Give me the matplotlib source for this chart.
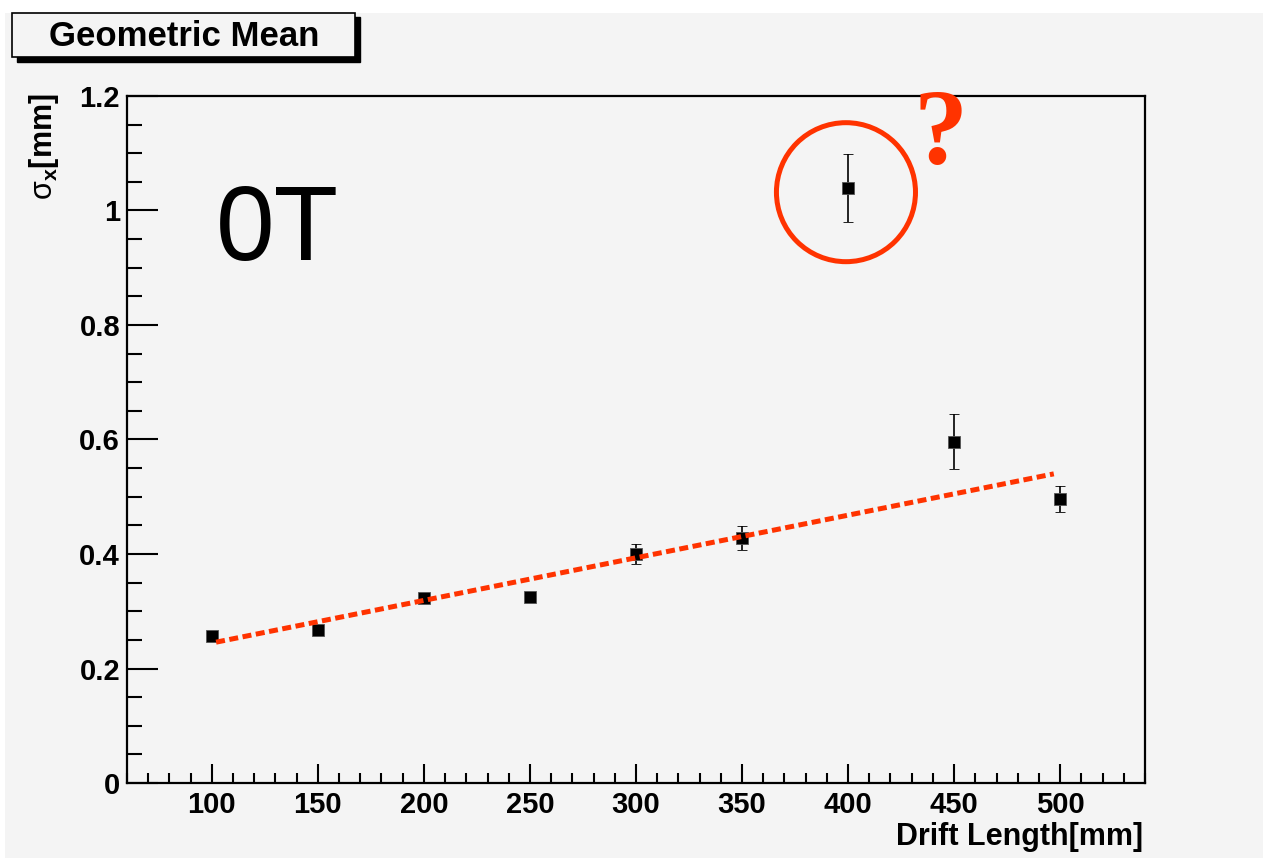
import matplotlib
matplotlib.use('Agg')
import matplotlib.pyplot as plt
from matplotlib.patches import Rectangle, Ellipse
from matplotlib.ticker import MultipleLocator, FuncFormatter

plt.rcParams['font.family'] = ['Liberation Sans', 'DejaVu Sans']
plt.rcParams['mathtext.fontset'] = 'custom'
plt.rcParams['mathtext.rm'] = 'Liberation Sans'
plt.rcParams['mathtext.bf'] = 'Liberation Sans:bold'
plt.rcParams['mathtext.default'] = 'regular'

# data
drift = [100, 150, 200, 250, 300, 350, 400, 450, 500]
sigma = [0.257, 0.267, 0.323, 0.325, 0.400, 0.428, 1.039, 0.596, 0.496]
sigma_err = [0.006, 0.006, 0.006, 0.006, 0.017, 0.021, 0.059, 0.048, 0.023]

# straight-line fit drawn in red
fit_x = [102, 497]
fit_y = [0.246, 0.540]

# the circled outlier
outlier_x = 399
outlier_y = 1.032

bg = '#f4f4f4'
red = '#ff3300'

W, H = 1263, 861
fig = plt.figure(figsize=(W / 100, H / 100), dpi=100, facecolor='white')

# grey canvas with thin white edge at top/left
fig.patches.append(Rectangle((5 / W, 3 / H), (W - 5) / W, (H - 16) / H,
                             transform=fig.transFigure, facecolor=bg,
                             edgecolor='none', zorder=-1))

ax = fig.add_axes([127 / W, 1 - 783 / H, (1145 - 127) / W, (783 - 96) / H])
ax.set_facecolor(bg)

ax.errorbar(drift, sigma, yerr=sigma_err, fmt='s', color='black',
            markersize=9, markeredgecolor='#555555', markeredgewidth=0.6,
            ecolor='black', elinewidth=1.2, capsize=3.5, capthick=1.2, zorder=3)

ax.plot(fit_x, fit_y, color=red, lw=3.6, linestyle=(0, (1.8, 0.9)),
        dash_capstyle='butt', zorder=4)

ax.add_patch(Ellipse((outlier_x, outlier_y), 139 / 2.12, 139 / 572.5,
                     fill=False, edgecolor=red, lw=3.6, zorder=5))

ax.set_xlim(60, 540)
ax.set_ylim(0, 1.2)
ax.xaxis.set_major_locator(MultipleLocator(50))
ax.xaxis.set_minor_locator(MultipleLocator(10))
ax.yaxis.set_major_locator(MultipleLocator(0.2))
ax.yaxis.set_minor_locator(MultipleLocator(0.05))
ax.yaxis.set_major_formatter(FuncFormatter(lambda v, p: '%g' % round(v, 2)))

ax.tick_params(axis='x', which='major', direction='in', length=14, width=1.5,
               labelsize=21, pad=6, top=False)
ax.tick_params(axis='x', which='minor', direction='in', length=7, width=1.5,
               top=False)
ax.tick_params(axis='y', which='major', direction='in', length=22, width=1.5,
               labelsize=21, pad=5, right=False)
ax.tick_params(axis='y', which='minor', direction='in', length=11, width=1.5,
               right=False)
for lab in ax.get_xticklabels() + ax.get_yticklabels():
    lab.set_fontweight('bold')
for s in ax.spines.values():
    s.set_linewidth(1.6)

# axis titles
fig.text(1143 / W, 1 - 845 / H, 'Drift Length[mm]', ha='right', va='baseline',
         fontsize=22, fontweight='bold')
fig.text(44 / W, 1 - 93 / H, r'$\mathrm{\sigma}_{\mathbf{x}}$[mm]', rotation=90,
         ha='center', va='top', fontsize=22, fontweight='bold')

# title box with shadow
fig.patches.append(Rectangle((17 / W, 1 - 62 / H), 343 / W, 45 / H,
                             transform=fig.transFigure, facecolor='black',
                             edgecolor='black', zorder=1))
fig.patches.append(Rectangle((12 / W, 1 - 57 / H), 343 / W, 44 / H,
                             transform=fig.transFigure, facecolor=bg,
                             edgecolor='black', lw=1.2, zorder=2))
fig.text(184 / W, 1 - 37 / H, 'Geometric Mean', ha='center', va='center',
         fontsize=25, fontweight='bold', zorder=3)

# annotations
fig.text(216 / W, 1 - 260 / H, '0T', ha='left', va='baseline', fontsize=76)
fig.text(941 / W, 1 - 163 / H, '?', ha='center', va='baseline', fontsize=78,
         fontweight='bold', color=red, family=['Liberation Serif', 'DejaVu Serif'])

fig.savefig('out.png', dpi=100, facecolor='white')
